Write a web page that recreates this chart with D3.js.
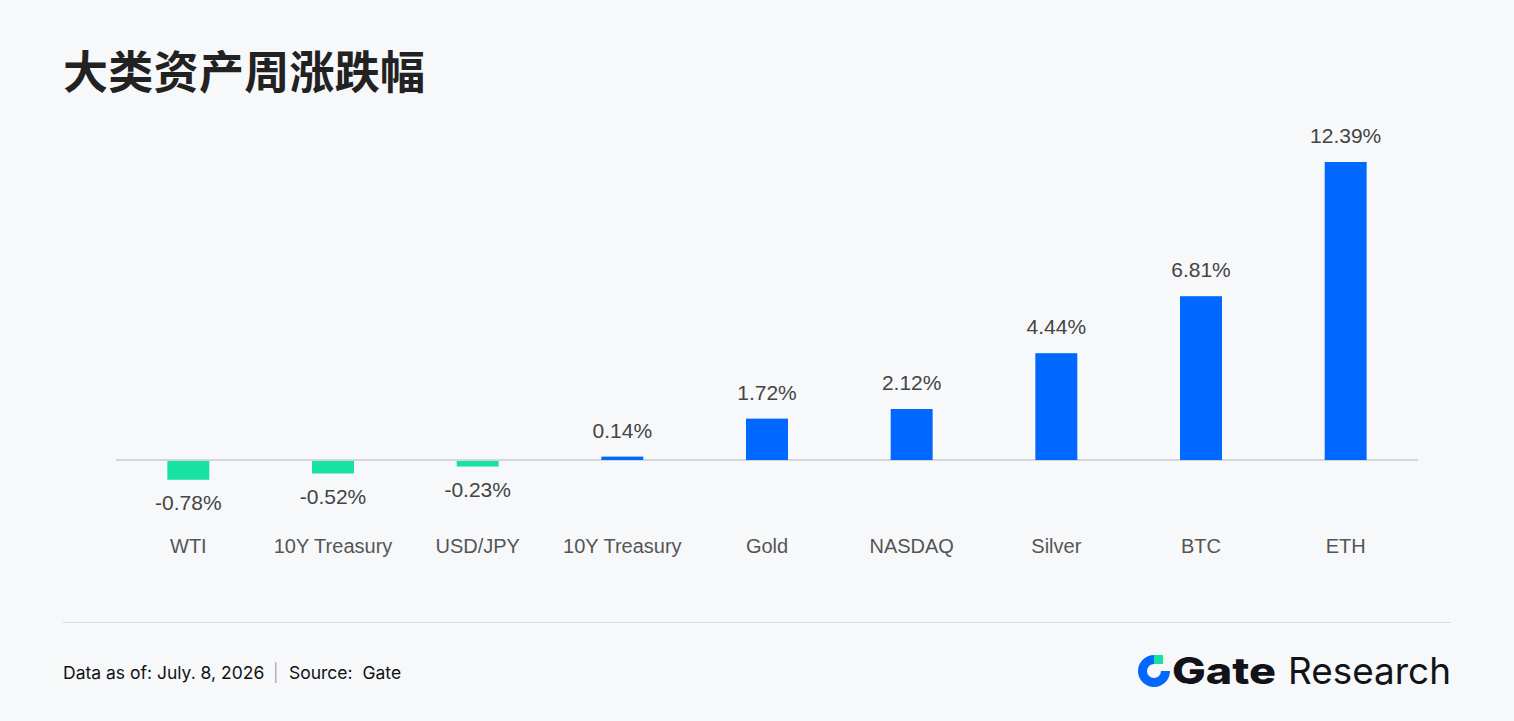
<!DOCTYPE html>
<html>
<head>
<meta charset="utf-8">
<script src="https://cdn.jsdelivr.net/npm/d3@7"></script>
<style>
  html, body { margin: 0; padding: 0; background: #f7f8fa; }
  svg { display: block; }
</style>
</head>
<body>
<div class="chart"></div>
<script>
// data
const categories = ["WTI", "10Y Treasury", "USD/JPY", "10Y Treasury ", "Gold", "NASDAQ", "Silver", "BTC", "ETH"];
const changes = [-0.78, -0.52, -0.23, 0.14, 1.72, 2.12, 4.44, 6.81, 12.39];
const valueLabels = ["-0.78%", "-0.52%", "-0.23%", "0.14%", "1.72%", "2.12%", "4.44%", "6.81%", "12.39%"];

const outerWidth = 1514;
const outerHeight = 721;
const font = "Inter, 'Noto Sans', sans-serif";
const labelFont = "'Liberation Sans', Arial, sans-serif";

const svg = d3.select(".chart")
    .append("svg")
    .attr("width", outerWidth)
    .attr("height", outerHeight);

svg.append("rect")
    .attr("width", outerWidth)
    .attr("height", outerHeight)
    .attr("fill", "#f7f8fa");

// title
svg.append("text")
    .attr("x", 63)
    .attr("y", 89)
    .attr("font-family", "'Noto Sans CJK SC', sans-serif")
    .attr("font-weight", 700)
    .attr("font-size", 45)
    .attr("letter-spacing", 0.3)
    .attr("fill", "#222222")
    .text("大类资产周涨跌幅");

const margin = {top: 162, left: 116, right: 96};
const width = outerWidth - margin.left - margin.right;

const xScale = d3.scaleBand()
    .domain(categories)
    .range([margin.left, margin.left + width])
    .paddingInner(0.71)
    .paddingOuter(0.355);

const yScale = d3.scaleLinear()
    .domain([0, d3.max(changes)])
    .range([460, margin.top]);

const data = categories.map((c, i) => ({cat: c, value: changes[i], label: valueLabels[i]}));

// zero line
svg.append("line")
    .attr("x1", margin.left)
    .attr("x2", margin.left + width)
    .attr("y1", yScale(0))
    .attr("y2", yScale(0))
    .attr("stroke", "#d4d6da")
    .attr("stroke-width", 2);

svg.append("g")
    .selectAll("rect")
    .data(data)
    .join("rect")
    .attr("x", d => xScale(d.cat))
    .attr("width", xScale.bandwidth())
    .attr("y", d => d.value >= 0 ? yScale(d.value) : yScale(0) + 1)
    .attr("height", d => Math.max(2, Math.abs(yScale(d.value) - yScale(0))))
    .attr("fill", d => d.value >= 0 ? "#0068ff" : "#17e29f");

// value labels
svg.append("g")
    .selectAll("text")
    .data(data)
    .join("text")
    .attr("x", d => xScale(d.cat) + xScale.bandwidth() / 2)
    .attr("y", d => d.value >= 0 ? yScale(d.value) - 19 : yScale(d.value) + 31)
    .attr("text-anchor", "middle")
    .attr("font-family", labelFont)
    .attr("font-size", 21)
    .attr("fill", "#444444")
    .text(d => d.label);

// category axis (no domain line / ticks)
const xAxis = d3.axisBottom(xScale).tickSize(0).tickPadding(0);
const gx = svg.append("g")
    .attr("transform", "translate(0, 546)")
    .call(xAxis);
gx.select(".domain").remove();
gx.selectAll("text")
    .attr("font-family", labelFont)
    .attr("font-size", 20)
    .attr("fill", "#555555")
    .attr("dy", "0.35em")
    .text(d => d.trim());

// footer separator
svg.append("line")
    .attr("x1", 63)
    .attr("x2", 1451)
    .attr("y1", 622.5)
    .attr("y2", 622.5)
    .attr("stroke", "#d9dbdf")
    .attr("stroke-width", 1);

const footer = svg.append("text")
    .attr("x", 63)
    .attr("y", 679)
    .attr("font-family", font)
    .attr("font-size", 17.5)
    .attr("fill", "#111111")
    .style("white-space", "pre");
footer.append("tspan").text("Data as of: July. 8, 2026");
footer.append("tspan").attr("x", 273).attr("fill", "#999").attr("font-weight", 300).text("|");
footer.append("tspan").attr("x", 289).text("Source:  Gate");

// logo
const logo = svg.append("g").attr("transform", "translate(1154, 671)");
const arc = d3.arc()
    .innerRadius(7)
    .outerRadius(16)
    .startAngle(Math.PI / 2)
    .endAngle(2 * Math.PI);
logo.append("path").attr("d", arc()).attr("fill", "#0068ff");
logo.append("rect")
    .attr("x", 0).attr("y", -16)
    .attr("width", 9).attr("height", 9)
    .attr("fill", "#17e29f");

svg.append("text")
    .attr("x", 1172)
    .attr("y", 684)
    .attr("font-family", font)
    .attr("font-size", 37)
    .attr("font-weight", 800)
    .attr("textLength", 104)
    .attr("lengthAdjust", "spacingAndGlyphs")
    .attr("fill", "#111318")
    .text("Gate");
svg.append("text")
    .attr("x", 1288)
    .attr("y", 684)
    .attr("font-family", font)
    .attr("font-size", 37)
    .attr("font-weight", 400)
    .attr("textLength", 163)
    .attr("lengthAdjust", "spacingAndGlyphs")
    .attr("fill", "#111318")
    .text("Research");
</script>
</body>
</html>
